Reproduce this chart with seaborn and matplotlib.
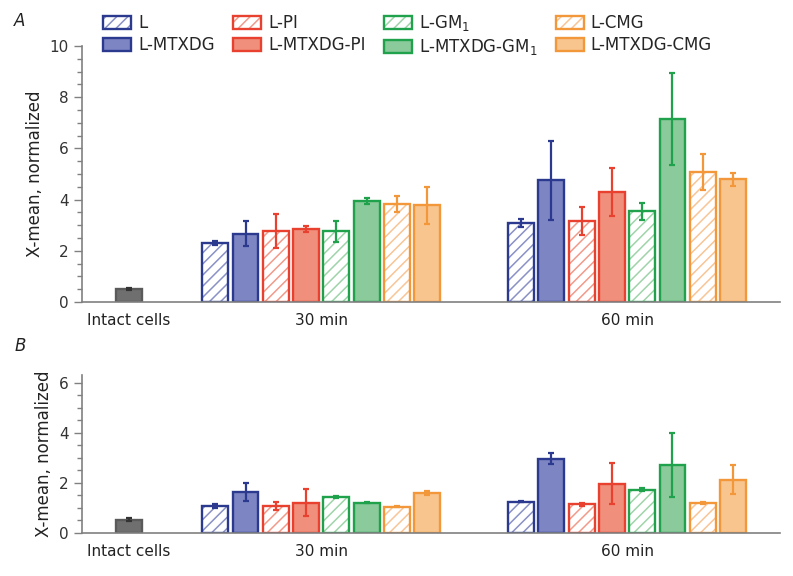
import matplotlib
matplotlib.use("Agg")
import matplotlib.pyplot as plt
from matplotlib.patches import Rectangle, Patch
from matplotlib.ticker import MultipleLocator, AutoMinorLocator
from matplotlib.legend_handler import HandlerTuple
import numpy as np
import pandas as pd
import seaborn as sns

# conditions, in the order they sit inside each time group
conditions = ["L", "L-MTXDG", "L-PI", "L-MTXDG-PI",
              "L-GM$_1$", "L-MTXDG-GM$_1$", "L-CMG", "L-MTXDG-CMG"]
group_labels = ["Intact cells", "30 min", "60 min"]

# panel A
intact_a, intact_a_err = 0.50, 0.05
a_30 = [2.32, 2.67, 2.77, 2.85, 2.76, 3.93, 3.83, 3.78]
a_30_err = [0.08, 0.48, 0.66, 0.12, 0.42, 0.12, 0.32, 0.73]
a_60 = [3.09, 4.75, 3.15, 4.30, 3.54, 7.14, 5.09, 4.80]
a_60_err = [0.16, 1.55, 0.55, 0.95, 0.32, 1.79, 0.70, 0.25]

# panel B
intact_b, intact_b_err = 0.53, 0.07
b_30 = [1.07, 1.65, 1.09, 1.21, 1.45, 1.21, 1.05, 1.59]
b_30_err = [0.07, 0.36, 0.16, 0.54, 0.04, 0.02, 0.02, 0.07]
b_60 = [1.25, 2.97, 1.15, 1.97, 1.73, 2.71, 1.19, 2.13]
b_60_err = [0.02, 0.22, 0.06, 0.81, 0.07, 1.27, 0.03, 0.57]

edge_colors = ["#2b3a8f", "#2b3a8f", "#e8412f", "#e8412f",
               "#1fa24b", "#1fa24b", "#f3983a", "#f3983a"]
fill_colors = ["white", "#7d85c3", "white", "#f0907c",
               "white", "#8bca9b", "white", "#f9c58f"]
hatch_colors = ["#8a91c6", None, "#f29a8a", None, "#9fd4aa", None, "#f8c596", None]
intact_fill, intact_edge = "#6f6f6f", "#5a5a5a"

# layout: where each block of bars starts on the x axis (bar pitch = 1)
group_start = {"30 min": 2.85, "60 min": 12.95}


def panel_frame(intact, intact_err, v30, e30, v60, e60):
    rows = [dict(pos=0.0, value=intact, err=intact_err, cond=-1)]
    for grp, vals, errs in [("30 min", v30, e30), ("60 min", v60, e60)]:
        for i, (v, e) in enumerate(zip(vals, errs)):
            rows.append(dict(pos=group_start[grp] + i, value=v, err=e, cond=i))
    return pd.DataFrame(rows)


def draw_panel(ax, df, ymax):
    sns.barplot(data=df, x="pos", y="value", native_scale=True, width=0.85,
                errorbar=None, color="gray", ax=ax, zorder=2)
    for patch in list(ax.patches):
        cx = patch.get_x() + patch.get_width() / 2
        row = df.iloc[(df["pos"] - cx).abs().argmin()]
        c = int(row["cond"])
        if c < 0:
            fc, ec, hc = intact_fill, intact_edge, None
        else:
            fc, ec, hc = fill_colors[c], edge_colors[c], hatch_colors[c]
        if hc is None:
            patch.set_facecolor(fc)
            patch.set_edgecolor(ec)
            patch.set_linewidth(1.7)
        else:
            patch.set_facecolor("white")
            patch.set_edgecolor(hc)
            patch.set_hatch("///")
            patch.set_linewidth(0)
            ax.add_patch(Rectangle(patch.get_xy(), patch.get_width(), patch.get_height(),
                                   fill=False, edgecolor=ec, linewidth=1.7, zorder=2.5))
        ax.errorbar(cx, row["value"], yerr=row["err"], fmt="none",
                    ecolor=("#333333" if c < 0 else ec), elinewidth=1.6,
                    capsize=2.5, capthick=1.6, zorder=3)

    ax.set_xlim(-1.55, 21.5)
    ax.set_ylim(0, ymax)
    ticks = [0.0, group_start["30 min"] + 3.5, group_start["60 min"] + 3.5]
    ax.set_xticks(ticks)
    ax.set_xticklabels(group_labels, fontsize=11, color="#222222")
    ax.tick_params(axis="x", length=0, pad=8)
    ax.yaxis.set_major_locator(MultipleLocator(2))
    ax.yaxis.set_minor_locator(AutoMinorLocator(4))
    ax.tick_params(axis="y", which="major", length=6, width=1, color="#808080",
                   labelsize=11, labelcolor="#333333", direction="out")
    ax.tick_params(axis="y", which="minor", length=3.5, width=1, color="#808080")
    ax.set_xlabel("")
    ax.set_ylabel("X-mean, normalized", fontsize=12, color="#222222")
    sns.despine(ax=ax)
    for s in ("left", "bottom"):
        ax.spines[s].set_color("#808080")
        ax.spines[s].set_linewidth(1.2)


sns.set_style("ticks")
plt.rcParams["font.family"] = ["DejaVu Sans"]
plt.rcParams["hatch.linewidth"] = 1.1

fig = plt.figure(figsize=(7.93, 5.76), dpi=100)
ax_a = fig.add_axes([0.1034, 0.4757, 0.8802, 0.4444])
ax_b = fig.add_axes([0.1034, 0.0747, 0.8802, 0.2735])

draw_panel(ax_a, panel_frame(intact_a, intact_a_err, a_30, a_30_err, a_60, a_60_err), 10)
draw_panel(ax_b, panel_frame(intact_b, intact_b_err, b_30, b_30_err, b_60, b_60_err), 6.3)

fig.text(0.018, 0.955, "A", fontsize=12, style="italic", color="#222222")
fig.text(0.018, 0.39, "B", fontsize=12, style="italic", color="#222222")

handles = []
for c in range(len(conditions)):
    if hatch_colors[c] is None:
        handles.append(Patch(facecolor=fill_colors[c], edgecolor=edge_colors[c], linewidth=1.7))
    else:
        handles.append((Patch(facecolor="white", edgecolor=hatch_colors[c], hatch="///", linewidth=0),
                        Patch(facecolor="none", edgecolor=edge_colors[c], linewidth=1.7)))
fig.legend(handles, conditions, ncol=4, loc="upper left", bbox_to_anchor=(0.111, 1.003),
           frameon=False, fontsize=12, handlelength=1.7, handleheight=0.8,
           handletextpad=0.4, columnspacing=1.1, labelspacing=0.25,
           handler_map={tuple: HandlerTuple(ndivide=1, pad=0)})

fig.savefig("out.png", dpi=100)
